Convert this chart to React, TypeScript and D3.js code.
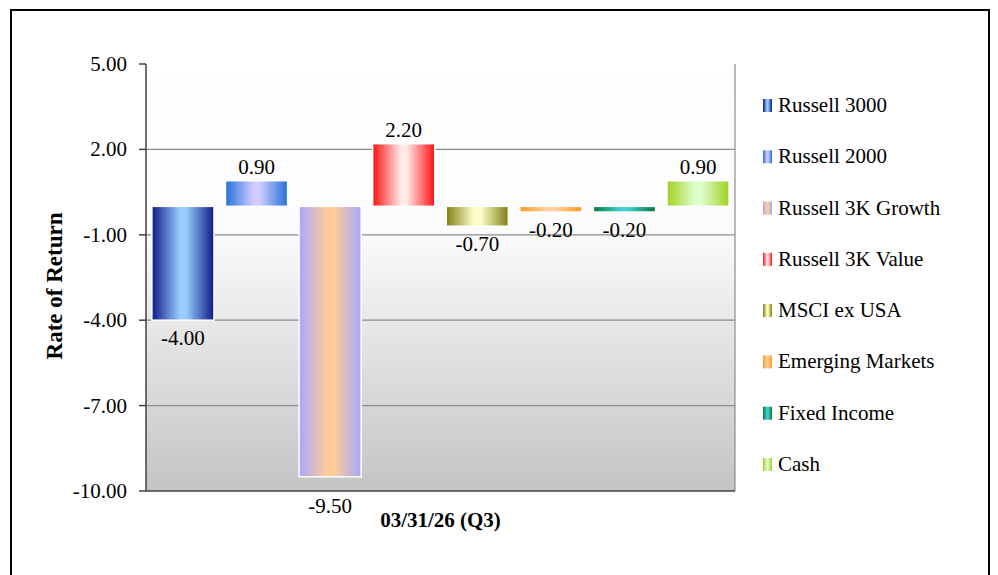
import React from "react";
import * as d3 from "d3";

// chart values
const series: string[] = [
  "Russell 3000",
  "Russell 2000",
  "Russell 3K Growth",
  "Russell 3K Value",
  "MSCI ex USA",
  "Emerging Markets",
  "Fixed Income",
  "Cash",
];
const returns: number[] = [-4.0, 0.9, -9.5, 2.2, -0.7, -0.2, -0.2, 0.9];
const yTicks: number[] = [5, 2, -1, -4, -7, -10];
// edge colour, centre colour of each bar's horizontal gradient
const edgeColors: string[] = ["#0c1a86", "#2270d8", "#aaa6ff", "#ff1010", "#7f7f10", "#ff9a1a", "#0a7a3a", "#a0d020"];
const midColors: string[] = ["#99ccff", "#d0ccff", "#ffcc99", "#ffe8e8", "#ffffcc", "#ffd0a0", "#40d0d0", "#ddffcc"];
const xTitle = "03/31/26 (Q3)";
const yTitle = "Rate of Return";

const W = 998;
const H = 575;
const margin = { top: 64, right: 263, bottom: 84, left: 146 };

// excel style: plain hyphen for negatives
const fmt = (v: number) => d3.format(".2f")(v).replace("\u2212", "-");

const App: React.FC = () => {
  const x = d3
    .scaleBand<string>()
    .domain(series)
    .range([margin.left, W - margin.right])
    .paddingInner(0.156)
    .paddingOuter(0.08);

  const y = d3
    .scaleLinear()
    .domain([-10, 5])
    .range([H - margin.bottom, margin.top]);

  const font = "'Liberation Serif', 'Times New Roman', serif";
  const legendY = d3.scalePoint<string>().domain(series).range([105, 464]);
  const axisY = H - margin.bottom;

  return (
    <svg
      width={W}
      height={H}
      style={{ position: "absolute", left: 0, top: 0, display: "block", background: "#fff" }}
      fontFamily={font}
    >
      <defs>
        <linearGradient id="plotBg" x1="0" y1="0" x2="0" y2="1">
          <stop offset="0" stopColor="#ffffff" />
          <stop offset="0.38" stopColor="#fcfcfc" />
          <stop offset="1" stopColor="#c4c4c4" />
        </linearGradient>
        {series.map((s, i) => (
          <linearGradient key={s} id={`bar${i}`} x1="0" y1="0" x2="1" y2="0">
            <stop offset="0" stopColor={edgeColors[i]} />
            <stop offset="0.45" stopColor={midColors[i]} />
            <stop offset="0.55" stopColor={midColors[i]} />
            <stop offset="1" stopColor={edgeColors[i]} />
          </linearGradient>
        ))}
      </defs>

      {/* outer frame */}
      <rect x={11} y={10} width={978} height={580} fill="none" stroke="#000" strokeWidth={2} />

      {/* plot area */}
      <rect
        x={margin.left}
        y={margin.top}
        width={W - margin.right - margin.left}
        height={axisY - margin.top}
        fill="url(#plotBg)"
      />
      {yTicks.slice(1, -1).map((t) => (
        <line key={t} x1={margin.left} x2={W - margin.right} y1={y(t)} y2={y(t)} stroke="#8c8c8c" strokeWidth={1.2} />
      ))}
      <line x1={W - margin.right} x2={W - margin.right} y1={margin.top} y2={axisY} stroke="#8c8c8c" strokeWidth={1.2} />

      {/* bars */}
      {series.map((s, i) => {
        const v = returns[i];
        const y0 = y(Math.max(0, v));
        const y1 = y(Math.min(0, v));
        return (
          <rect
            key={s}
            x={x(s)}
            y={y0}
            width={x.bandwidth()}
            height={y1 - y0}
            fill={`url(#bar${i})`}
            stroke="#ffffff"
            strokeWidth={1.5}
          />
        );
      })}

      {/* data labels */}
      {series.map((s, i) => {
        const v = returns[i];
        const cx = (x(s) ?? 0) + x.bandwidth() / 2;
        let ly = v >= 0 ? y(v) - 7 : y(v) + 25;
        if (v < 0 && ly > axisY - 14) ly = y(v) + 36;
        return (
          <text key={s} x={cx} y={ly} textAnchor="middle" fontSize={21} fill="#000">
            {fmt(v)}
          </text>
        );
      })}

      {/* axes */}
      <line x1={margin.left} x2={margin.left} y1={margin.top} y2={axisY} stroke="#404040" strokeWidth={1.5} />
      <line x1={margin.left} x2={W - margin.right} y1={axisY} y2={axisY} stroke="#404040" strokeWidth={1.5} />
      {yTicks.map((t) => (
        <g key={t}>
          <line x1={margin.left - 7} x2={margin.left} y1={y(t)} y2={y(t)} stroke="#404040" strokeWidth={1.5} />
          <text x={margin.left - 19} y={y(t) + 7} textAnchor="end" fontSize={21} fill="#000">
            {fmt(t)}
          </text>
        </g>
      ))}

      <text
        transform={`translate(62,286) rotate(-90)`}
        textAnchor="middle"
        fontSize={23}
        fontWeight="bold"
        fill="#000"
      >
        {yTitle}
      </text>
      <text
        x={(margin.left + W - margin.right) / 2}
        y={527}
        textAnchor="middle"
        fontSize={21}
        fontWeight="bold"
        fill="#000"
      >
        {xTitle}
      </text>

      {/* legend */}
      {series.map((s, i) => {
        const ly = legendY(s) ?? 0;
        return (
          <g key={s}>
            <rect x={763} y={ly - 6} width={9} height={13} fill={`url(#bar${i})`} />
            <text x={778} y={ly + 7} fontSize={21} fill="#000">
              {s}
            </text>
          </g>
        );
      })}
    </svg>
  );
};

export default App;
